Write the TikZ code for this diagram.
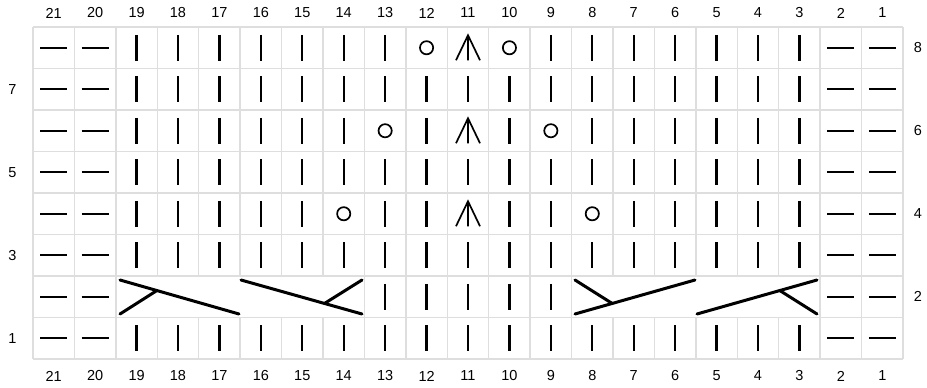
\documentclass[tikz,border=0pt]{standalone}
\usepackage{fontspec}
\setmainfont{Liberation Sans}
\usetikzlibrary{calc}
\begin{document}
\begin{tikzpicture}[x=1pt,y=-1pt,
  gridline/.style={draw=black!13, line width=1.4},
  knitbar/.pic={\draw[line width=2.2] (0,-13) -- (0,13);},
  purldash/.pic={\draw[line width=2.2] (-13.5,0) -- (13.5,0);},
  yocircle/.pic={\draw[line width=1.7] (0,0) circle (6.6);},
  decsym/.pic={\draw[line width=1.7] (0,-12.5) -- (0,12.5) (-12,12.5) -- (0,-12.5) -- (12,12.5);},
  cable/.style={line width=3, line cap=round},
  lbl/.style={font=\fontsize{14.5}{16}\selectfont, inner sep=0}]
\def\cw{41.4286}
\def\ch{41.5}
\useasboundingbox[fill=white] (0,0) rectangle (927,388);
% horizontal grid lines
\foreach \k in {0,...,8} \draw[gridline] (33,{27+\k*\ch}) -- (903,{27+\k*\ch});
% vertical grid lines
\foreach \j in {0,1,2,8,9,10,11,12,13,19,20,21} \draw[gridline] ({33+\j*\cw},27) -- ({33+\j*\cw},359);
\foreach \j in {3,...,7,14,15,16,17,18} {
  \draw[gridline] ({33+\j*\cw},27) -- ({33+\j*\cw},{27+6*\ch});
  \draw[gridline] ({33+\j*\cw},{27+7*\ch}) -- ({33+\j*\cw},359);
}
% purl columns
\foreach \r in {1,...,8} \foreach \c in {21,20,2,1}
  \pic at ({33+(21.5-\c)*\cw},{27+(8.5-\r)*\ch}) {purldash};
% knit in odd rows
\foreach \r in {1,3,5,7} \foreach \c in {3,...,19}
  \pic at ({33+(21.5-\c)*\cw},{27+(8.5-\r)*\ch}) {knitbar};
% row 8
\foreach \c in {19,18,17,16,15,14,13,9,8,7,6,5,4,3}
  \pic at ({33+(21.5-\c)*\cw},{27+0.5*\ch}) {knitbar};
\foreach \c in {12,10} \pic at ({33+(21.5-\c)*\cw},{27+0.5*\ch}) {yocircle};
\pic at ({33+10.5*\cw},{27+0.5*\ch}) {decsym};
% row 6
\foreach \c in {19,18,17,16,15,14,12,10,8,7,6,5,4,3}
  \pic at ({33+(21.5-\c)*\cw},{27+2.5*\ch}) {knitbar};
\foreach \c in {13,9} \pic at ({33+(21.5-\c)*\cw},{27+2.5*\ch}) {yocircle};
\pic at ({33+10.5*\cw},{27+2.5*\ch}) {decsym};
% row 4
\foreach \c in {19,18,17,16,15,13,12,10,9,7,6,5,4,3}
  \pic at ({33+(21.5-\c)*\cw},{27+4.5*\ch}) {knitbar};
\foreach \c in {14,8} \pic at ({33+(21.5-\c)*\cw},{27+4.5*\ch}) {yocircle};
\pic at ({33+10.5*\cw},{27+4.5*\ch}) {decsym};
% row 2
\foreach \c in {13,...,9}
  \pic at ({33+(21.5-\c)*\cw},{27+6.5*\ch}) {knitbar};
% cables
\coordinate (a1) at (120,280); \coordinate (a2) at (239,314); \coordinate (a3) at (120,314);
\draw[cable] (a1) -- (a2); \draw[cable] (a3) -- ($(a1)!0.31!(a2)$);
\coordinate (b1) at (241,280); \coordinate (b2) at (362,314); \coordinate (b3) at (362,280);
\draw[cable] (b1) -- (b2); \draw[cable] (b3) -- ($(b1)!0.69!(b2)$);
\coordinate (c1) at (575,314); \coordinate (c2) at (695,280); \coordinate (c3) at (575,280);
\draw[cable] (c1) -- (c2); \draw[cable] (c3) -- ($(c1)!0.31!(c2)$);
\coordinate (d1) at (697,314); \coordinate (d2) at (817,280); \coordinate (d3) at (817,314);
\draw[cable] (d1) -- (d2); \draw[cable] (d3) -- ($(d1)!0.69!(d2)$);
% column labels
\foreach \c in {1,...,21} {
  \node[lbl] (top\c) at ({33+(21.5-\c)*\cw},13) {\c};
  \node[lbl] (bot\c) at ({33+(21.5-\c)*\cw},376) {\c};
}
% row labels
\foreach \r in {1,3,5,7} \node[lbl] (rl\r) at (12.5,{27+(8.5-\r)*\ch}) {\r};
\foreach \r in {2,4,6,8} \node[lbl] (rr\r) at (918,{27+(8.5-\r)*\ch}) {\r};
\end{tikzpicture}
\end{document}
